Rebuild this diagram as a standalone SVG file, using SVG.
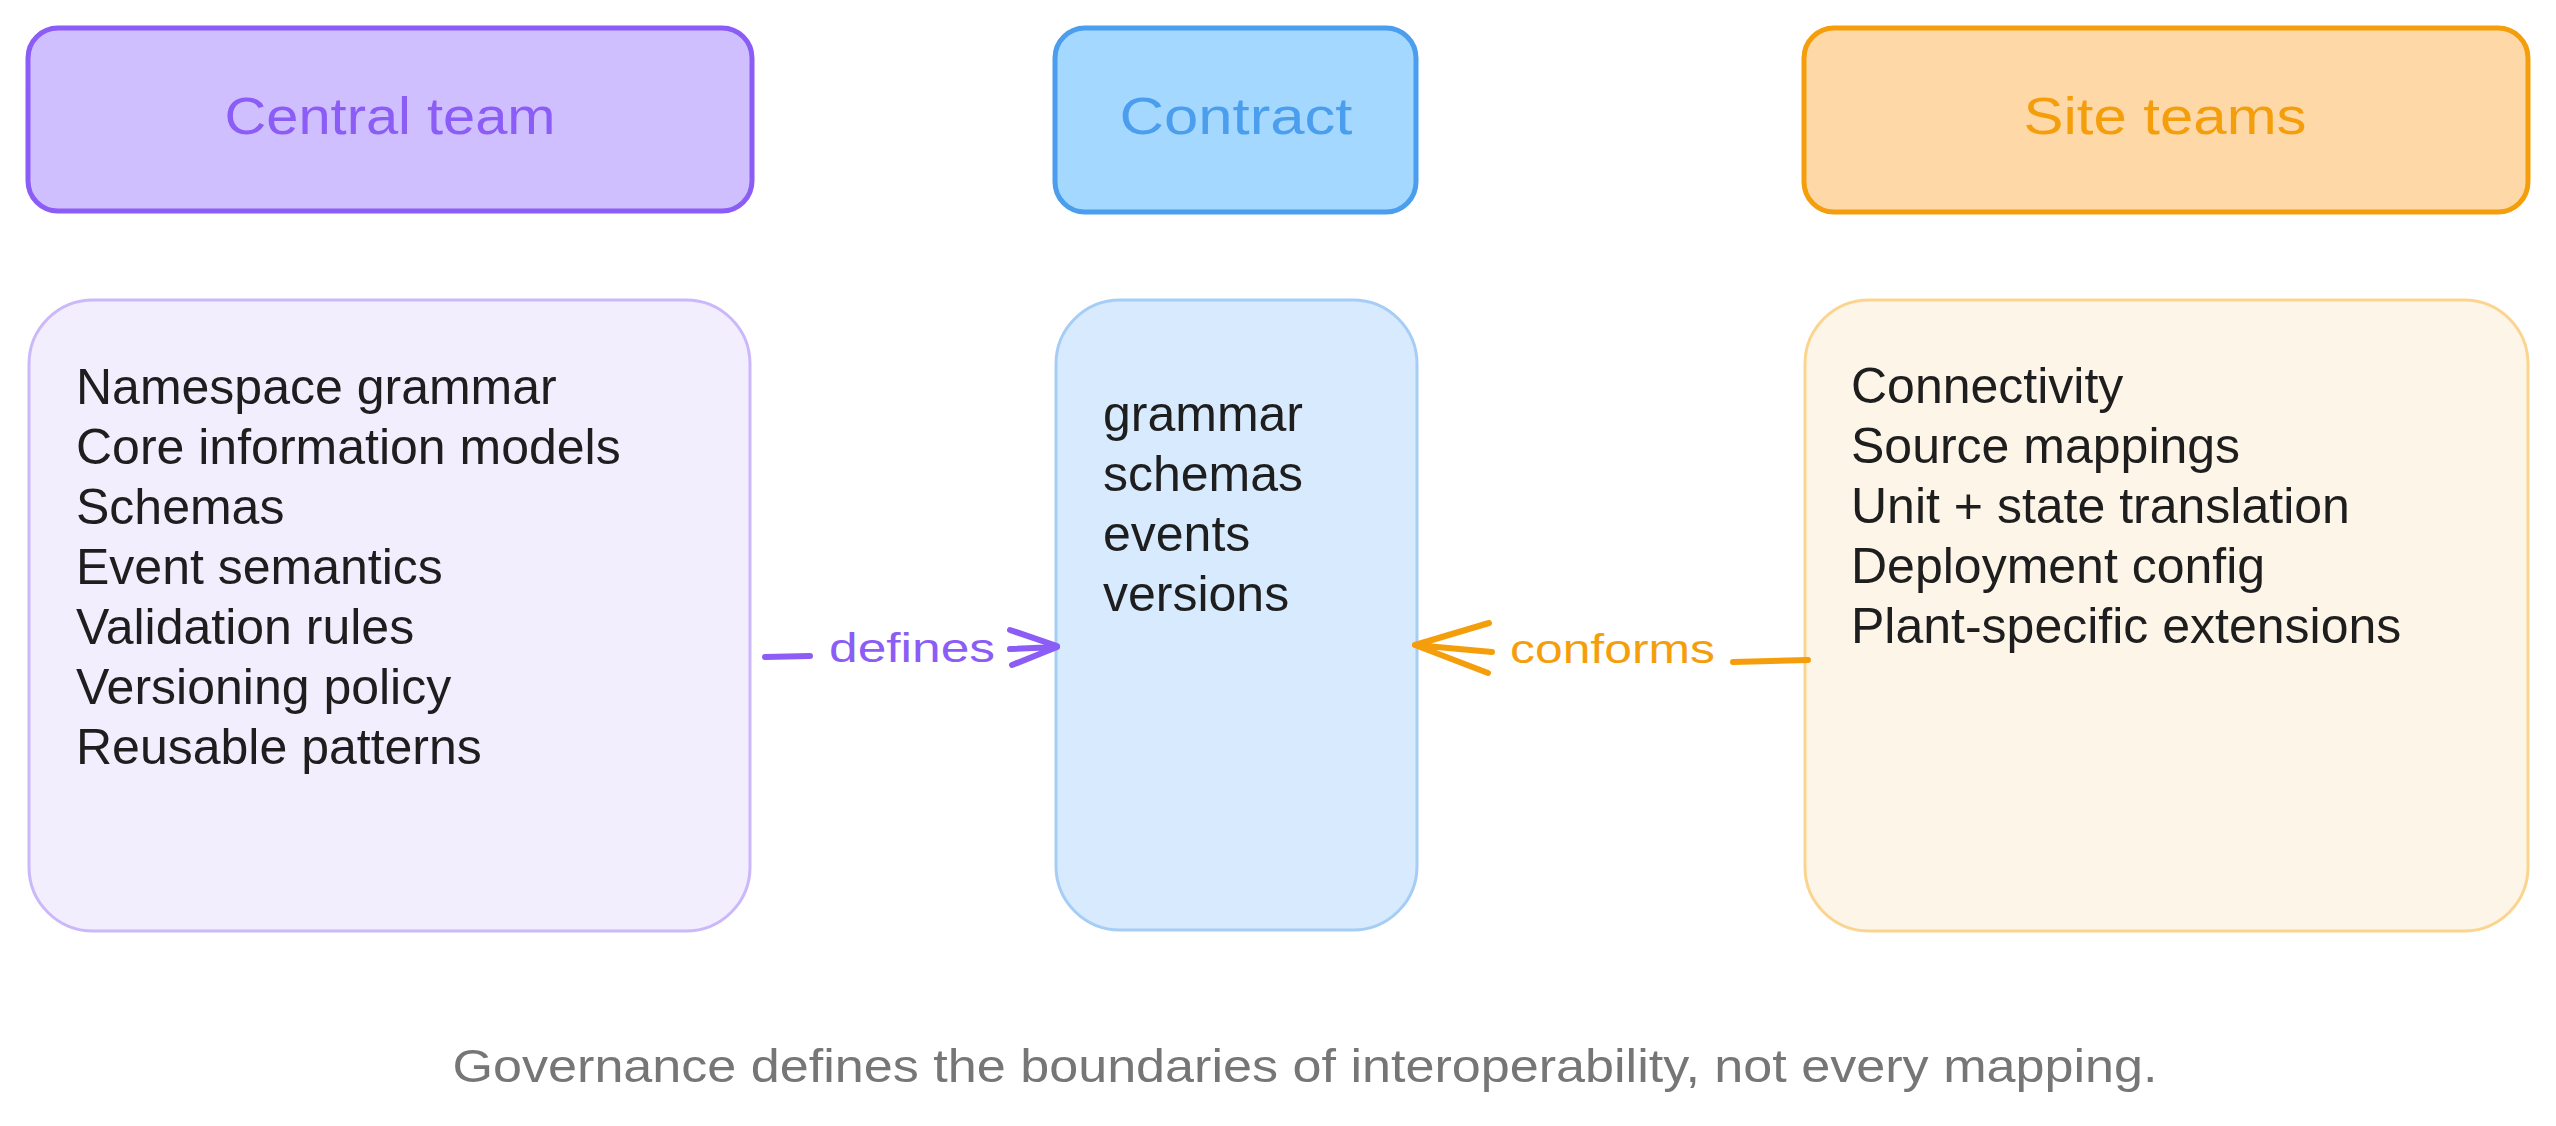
<svg xmlns="http://www.w3.org/2000/svg" width="2556" height="1126" viewBox="0 0 2556 1126">
<style>
.hdr{stroke-width:5;stroke-linejoin:round}
.body{stroke-width:3}
.t{font-family:"Liberation Sans","DejaVu Sans",sans-serif;font-size:50px;fill:#1e1e1e}
.h{font-family:"Liberation Sans","DejaVu Sans",sans-serif;font-size:52px;text-anchor:middle}
.lbl{font-family:"Liberation Sans","DejaVu Sans",sans-serif;font-size:40px}
.ln{fill:none;stroke-width:6;stroke-linecap:round;stroke-linejoin:round}
.cap{font-family:"Liberation Sans","DejaVu Sans",sans-serif;font-size:46px;fill:#767676}
</style>
<rect width="2556" height="1126" fill="#ffffff"/>
<g id="central-header">
<rect class="hdr" x="28" y="28" width="724" height="183" rx="30" fill="#d0bfff" stroke="#8b5cf6"/>
<text class="h" x="390" y="134" fill="#8b5cf6" textLength="331" lengthAdjust="spacingAndGlyphs">Central team</text>
</g>
<g id="contract-header">
<rect class="hdr" x="1055" y="28" width="361" height="184" rx="30" fill="#a5d8ff" stroke="#4a9eed"/>
<text class="h" x="1236" y="134" fill="#4a9eed" textLength="233" lengthAdjust="spacingAndGlyphs">Contract</text>
</g>
<g id="site-header">
<rect class="hdr" x="1804" y="28" width="724" height="184" rx="30" fill="#ffd8a8" stroke="#f59e0b"/>
<text class="h" x="2165" y="134" fill="#f59e0b" textLength="283" lengthAdjust="spacingAndGlyphs">Site teams</text>
</g>
<g id="central-body">
<rect class="body" x="29" y="300" width="721" height="631" rx="64" fill="#f2eefe" stroke="#cbb8fb"/>
<text class="t" x="76" y="404">Namespace grammar</text>
<text class="t" x="76" y="464">Core information models</text>
<text class="t" x="76" y="524">Schemas</text>
<text class="t" x="76" y="584">Event semantics</text>
<text class="t" x="76" y="644">Validation rules</text>
<text class="t" x="76" y="704">Versioning policy</text>
<text class="t" x="76" y="764">Reusable patterns</text>
</g>
<g id="contract-body">
<rect class="body" x="1056" y="300" width="361" height="630" rx="64" fill="#d7eafe" stroke="#a5cdf6"/>
<text class="t" x="1103" y="431">grammar</text>
<text class="t" x="1103" y="491">schemas</text>
<text class="t" x="1103" y="551">events</text>
<text class="t" x="1103" y="611">versions</text>
</g>
<g id="site-body">
<rect class="body" x="1805" y="300" width="723" height="631" rx="64" fill="#fef5e9" stroke="#fbd58f"/>
<text class="t" x="1851" y="403">Connectivity</text>
<text class="t" x="1851" y="463">Source mappings</text>
<text class="t" x="1851" y="523">Unit + state translation</text>
<text class="t" x="1851" y="583">Deployment config</text>
<text class="t" x="1851" y="643">Plant-specific extensions</text>
</g>
<g id="connectors">
<g id="defines-arrow">
<path class="ln" stroke="#8b5cf6" d="M765 657 L810 656"/>
<path class="ln" stroke="#8b5cf6" d="M1010 649 L1057 647 M1010 630 L1057 646 M1012 665 L1057 647"/>
<text class="lbl" x="829" y="662" fill="#8b5cf6" textLength="166" lengthAdjust="spacingAndGlyphs">defines</text>
</g>
<g id="conforms-arrow">
<path class="ln" stroke="#f59e0b" d="M1733 662 L1808 660"/>
<path class="ln" stroke="#f59e0b" d="M1492 652 L1415 645 M1489 623 L1415 645 M1488 673 L1415 645"/>
<text class="lbl" x="1510" y="663" fill="#f59e0b" textLength="205" lengthAdjust="spacingAndGlyphs">conforms</text>
</g>
</g>
<g id="caption">
<text class="cap" x="1305" y="1082" text-anchor="middle" textLength="1705" lengthAdjust="spacingAndGlyphs">Governance defines the boundaries of interoperability, not every mapping.</text>
</g>
</svg>
